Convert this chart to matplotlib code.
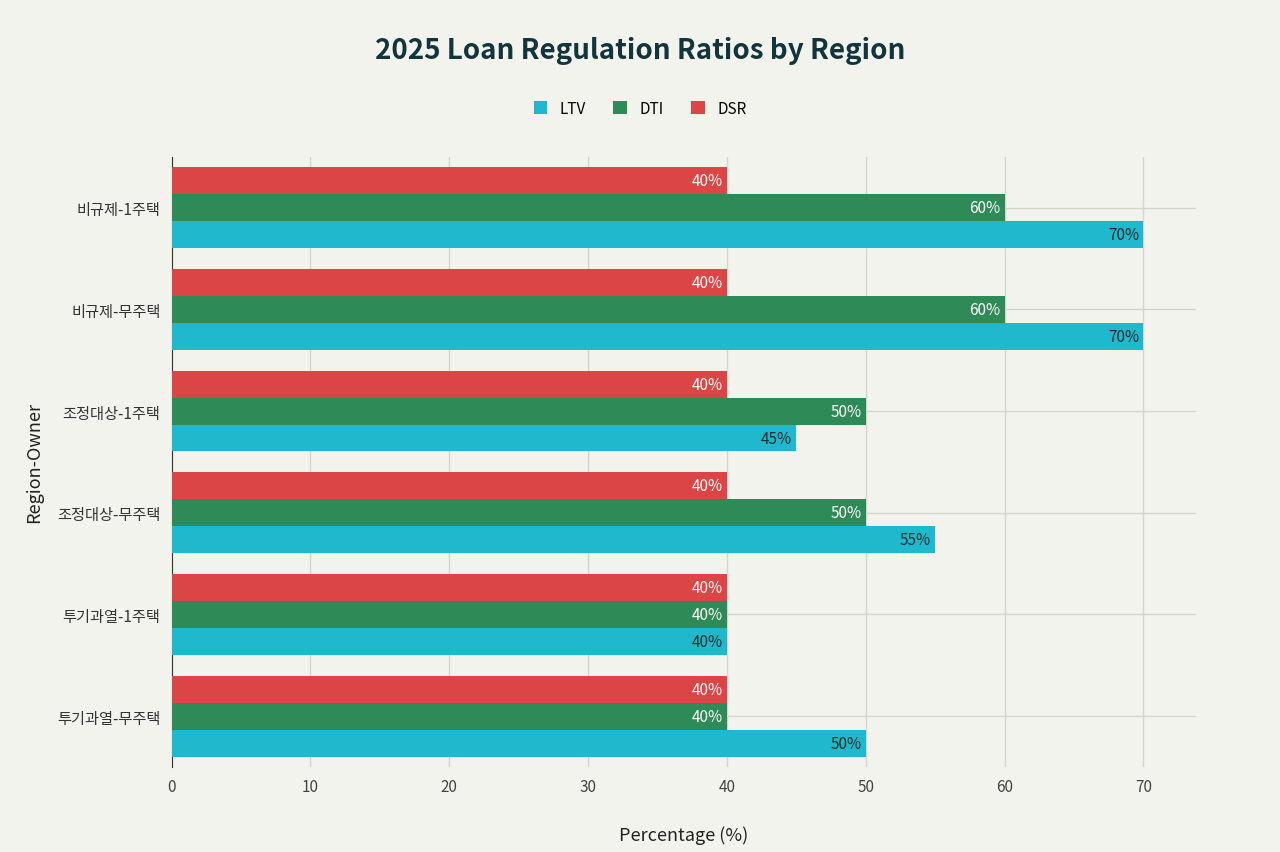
import matplotlib.pyplot as plt
import numpy as np

plt.rcParams['font.family'] = ['Noto Sans CJK KR', 'DejaVu Sans']

categories = ['비규제-1주택', '비규제-무주택', '조정대상-1주택', '조정대상-무주택', '투기과열-1주택', '투기과열-무주택']
ltv = [70, 70, 45, 55, 40, 50]
dti = [60, 60, 50, 50, 40, 40]
dsr = [40, 40, 40, 40, 40, 40]

bg = '#f3f3ee'
fig = plt.figure(figsize=(12.8, 8.53), dpi=100, facecolor=bg)
ax = fig.add_axes([0.134, 0.0996, 0.80, 0.7154], facecolor=bg)

y = np.arange(len(categories))
h = 0.265
series = [('LTV', ltv, '#1fb8cd', h, '#1f2d2d'),
          ('DTI', dti, '#2e8b57', 0, 'white'),
          ('DSR', dsr, '#db4545', -h, 'white')]
for name, vals, col, off, tc in series:
    bars = ax.barh(y + off, vals, height=h, color=col, label=name, zorder=3)
    for b, v in zip(bars, vals):
        ax.text(v - 0.3, b.get_y() + h / 2, f'{v}%', ha='right', va='center',
                color=tc, fontsize=11, zorder=4)

ax.set_yticks(y)
ax.set_yticklabels(categories, fontsize=11, color='#333333')
ax.set_ylim(5.5, -0.5)
ax.set_xlim(0, 73.75)
ax.set_xticks(range(0, 80, 10))
ax.tick_params(axis='x', labelsize=11, colors='#444444', length=0, pad=8)
ax.tick_params(axis='y', length=0, pad=8)
ax.grid(True, color='#d5d5d0', linewidth=1, zorder=0)
for s in ['top', 'right', 'bottom']:
    ax.spines[s].set_visible(False)
ax.spines['left'].set_color('#333333')

ax.set_xlabel('Percentage (%)', fontsize=13, color='#222222', labelpad=22)
ax.set_ylabel('Region-Owner', fontsize=13, color='#222222', labelpad=10)

fig.text(0.5, 0.94, '2025 Loan Regulation Ratios by Region', ha='center', va='center',
         fontsize=20, fontweight='bold', color='#13343b')
handles, labels = ax.get_legend_handles_labels()
fig.legend(handles, labels, loc='center', bbox_to_anchor=(0.5, 0.872), ncol=3,
           frameon=False, fontsize=11, handlelength=0.9, handleheight=0.9,
           columnspacing=1.8)

fig.savefig('out.png', dpi=100, facecolor=bg)
